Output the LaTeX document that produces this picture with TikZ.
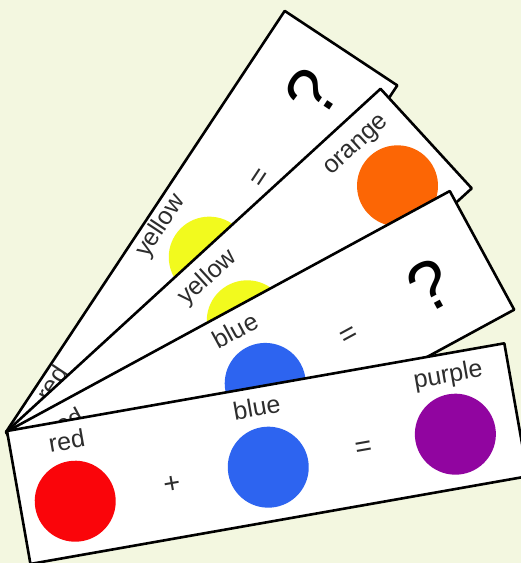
\documentclass[tikz,border=0pt]{standalone}
\usepackage{fontspec}
\setmainfont{Liberation Sans}
\usepackage{xcolor}
\usepackage{tikz}

\definecolor{bgcream}{RGB}{243,247,224}
\definecolor{inkgray}{RGB}{45,45,45}
\definecolor{cred}{RGB}{250,5,10}
\definecolor{cblue}{RGB}{45,100,240}
\definecolor{cyellow}{RGB}{242,250,30}
\definecolor{corange}{RGB}{252,102,5}
\definecolor{cpurple}{RGB}{145,5,160}

\begin{document}
\begin{tikzpicture}[x=1pt, y=1pt,
    card/.style={draw=black, line width=2.6pt, line join=round, fill=white},
    lbl/.style={anchor=base, text=inkgray, font=\fontsize{25}{25}\selectfont},
    dot/.style={circle, inner sep=0pt, minimum size=81pt},
    op/.style={text=inkgray, font=\fontsize{29}{29}\selectfont},
    ask/.style={text=black, font=\fontsize{70}{70}\selectfont}]
    % Nền
    \fill[bgcream] (0,0) rectangle (521,563);
    \useasboundingbox (0,0) rectangle (521,563);

    % Thẻ 1: red + yellow = ?
    \begin{scope}[shift={(6,131)}, rotate=56.5, transform shape]
        \draw[card] (0,0) rectangle (505,-135);
        \node[lbl] (l11) at (66,-20) {red};
        \node[lbl] (l12) at (257,-22) {yellow};
        \node[dot, fill=cyellow] (c12) at (258,-73) {};
        \node[op] (e1) at (352,-73) {=};
        \node[ask] (q1) at (452,-68) {?};
    \end{scope}

    % Thẻ 2: red + yellow = orange
    \begin{scope}[shift={(6,131)}, rotate=42.5, transform shape]
        \draw[card] (0,0) rectangle (508,-135);
        \node[lbl] (l22) at (253,-29) {yellow};
        \node[dot, fill=cyellow] (c22) at (253,-81) {};
        \node[lbl] (l23) at (452,-31) {orange};
        \node[dot, fill=corange] (c23) at (455,-83) {};
    \end{scope}

    % Thẻ 3: red + blue = ?
    \begin{scope}[shift={(6,131)}, rotate=28.5, transform shape]
        \draw[card] (0,0) rectangle (505,-135);
        \node[lbl] (l31) at (57,-29) {red};
        \node[lbl] (l32) at (250,-29) {blue};
        \node[dot, fill=cblue] (c32) at (251,-81) {};
        \node[op] (e3) at (348,-80) {=};
        \node[ask] (q3) at (442,-74) {?};
    \end{scope}

    % Thẻ 4: red + blue = purple
    \begin{scope}[shift={(7,132)}, rotate=10, transform shape]
        \draw[card] (0,0) rectangle (505,-135);
        \node[lbl] (l41) at (57,-29) {red};
        \node[dot, fill=cred] (c41) at (55,-81) {};
        \node[op] (p4) at (153,-82) {+};
        \node[lbl] (l42) at (250,-29) {blue};
        \node[dot, fill=cblue] (c42) at (251,-81) {};
        \node[op] (e4) at (348,-80) {=};
        \node[lbl] (l43) at (444,-29) {purple};
        \node[dot, fill=cpurple] (c43) at (441,-81) {};
    \end{scope}
\end{tikzpicture}
\end{document}
